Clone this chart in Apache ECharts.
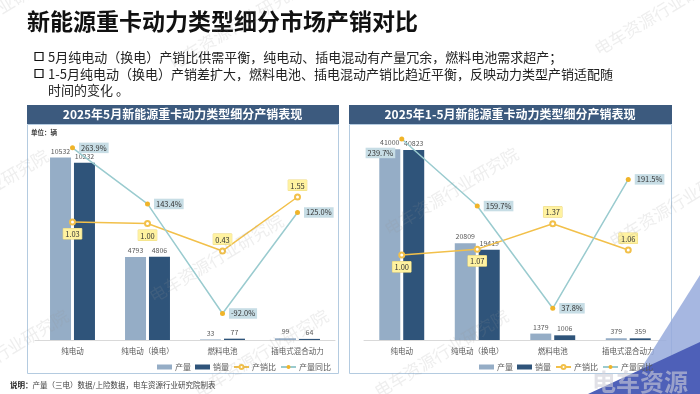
<!DOCTYPE html>
<html>
<head>
<meta charset="utf-8">
<script src="https://cdn.jsdelivr.net/npm/echarts@6/dist/echarts.min.js"></script>
<style>
  html, body { margin: 0; padding: 0; background: #ffffff; }
  #chart { width: 700px; height: 394px; }
</style>
</head>
<body>
<div id="chart"></div>
<script>
// ---- data ----
const categories = ['纯电动', '纯电动（换电）', '燃料电池', '插电式混合动力'];
const seriesNames = ['产量', '销量', '产销比', '产量同比'];
const mayProduction = [10532, 4793, 33, 99];
const maySales = [10232, 4806, 77, 64];
const mayRatio = [1.03, 1.00, 0.43, 1.55];
const mayYoY = [263.9, 143.4, -92.0, 125.0];
const ytdProduction = [41000, 20809, 1379, 379];
const ytdSales = [40823, 19419, 1006, 359];
const ytdRatio = [1.00, 1.07, 1.37, 1.06];
const ytdYoY = [239.7, 159.7, 37.8, 191.5];

const pageTitle = '新能源重卡动力类型细分市场产销对比';
const bullets = [
  '5月纯电动（换电）产销比供需平衡，纯电动、插电混动有产量冗余，燃料电池需求超产；',
  '1-5月纯电动（换电）产销差扩大，燃料电池、插电混动产销比趋近平衡，反映动力类型产销适配随',
  '时间的变化 。'
];
const panelTitles = ['2025年5月新能源重卡动力类型细分产销表现', '2025年1-5月新能源重卡动力类型细分产销表现'];
const unitText = '单位：辆';
const noteLabel = '说明：';
const noteText = '产量（三电）数据/上险数据，电车资源行业研究院制表';
const watermark = '电车资源行业研究院';
const logoText = '电车资源';

// ---- styles ----
const FONT = '"Noto Sans CJK SC", "Noto Sans", sans-serif';
const C_PROD = '#95adc6';
const C_SALE = '#2f547a';
const C_RATIO = '#f2c04a';
const C_YOY_LINE = '#9acbcf';
const C_YOY_DOT = '#f0b429';
const C_HEADER = '#3c5a7e';

const ratioPosLeft = ['bottom', 'bottom', 'top', 'top'];
const ratioPosRight = ['bottom', 'bottom', 'top', 'top'];
const yoyPosLeft = ['right', 'right', 'right', 'right'];
const yoyPosRight = ['left', 'right', 'right', 'right'];
const yoyOffRight = [[0, 14], [0, 0], [0, 0], [0, 0]];

const ratioLabel = {
  show: true, fontSize: 7.5, color: '#333', backgroundColor: '#fff2a0',
  borderColor: '#ecd77c', borderWidth: 0.5, padding: [2, 2, 1, 2], distance: 3,
  formatter: p => Number(p.value).toFixed(2)
};
const yoyLabel = {
  show: true, fontSize: 7.5, color: '#333', backgroundColor: '#c7dde5',
  padding: [2, 2, 1, 2], distance: 4,
  formatter: p => Number(p.value).toFixed(1) + '%'
};
const barLabel = { show: true, position: 'top', fontSize: 7, color: '#595959', distance: 3 };

function barSeries(name, data, color, xi, yi) {
  return {
    name, type: 'bar', xAxisIndex: xi, yAxisIndex: yi, data,
    barWidth: 21, barGap: '14%', itemStyle: { color }, label: barLabel, z: 2
  };
}
function ratioSeries(data, pos, xi, yi) {
  return {
    name: seriesNames[2], type: 'line', xAxisIndex: xi, yAxisIndex: yi,
    data: data.map((v, i) => ({ value: v, label: { position: pos[i] } })),
    symbol: 'emptyCircle', symbolSize: 5,
    lineStyle: { color: C_RATIO, width: 1.5 },
    itemStyle: { color: C_RATIO, borderColor: C_RATIO },
    label: ratioLabel, z: 4
  };
}
function yoySeries(data, pos, off, xi, yi) {
  return {
    name: seriesNames[3], type: 'line', xAxisIndex: xi, yAxisIndex: yi,
    data: data.map((v, i) => ({ value: v, label: { position: pos[i], offset: off ? off[i] : [0, 0] } })),
    symbol: 'circle', symbolSize: 5,
    lineStyle: { color: C_YOY_LINE, width: 1.5 },
    itemStyle: { color: C_YOY_DOT },
    label: yoyLabel, z: 5
  };
}
function xAxis(gi) {
  return {
    type: 'category', gridIndex: gi, data: categories, boundaryGap: true,
    axisLine: { lineStyle: { color: '#d9d9d9' } }, axisTick: { show: false },
    axisLabel: { fontSize: 7.5, color: '#595959', margin: 7, interval: 0 }
  };
}
function yAxis(gi, min, max) {
  return { type: 'value', gridIndex: gi, min, max, show: false, splitLine: { show: false } };
}
function legend(left) {
  return {
    left, top: 358, z: 20, itemWidth: 15, itemHeight: 5, itemGap: 4,
    textStyle: { fontSize: 8, color: '#595959', padding: [0, 0, 0, -2] },
    data: [{ name: seriesNames[0], icon: 'rect' }, { name: seriesNames[1], icon: 'rect' }, seriesNames[2], seriesNames[3]]
  };
}

// ---- graphics (page decorations) ----
const graphics = [];
// watermarks
const wmPos = [[-70, 60], [175, 72], [600, 58], [-80, 240], [155, 305], [390, 238], [615, 250], [-60, 400], [200, 400], [380, 400]];
wmPos.forEach(p => graphics.push({
  type: 'text', x: p[0], y: p[1], rotation: 0.54, z: 100, silent: true,
  style: { text: watermark, fontSize: 17, fontFamily: FONT, fill: 'rgba(150,150,150,0.16)', verticalAlign: 'bottom' }
}));
// title
graphics.push({ type: 'text', x: 27, y: 10, style: { text: pageTitle, fontSize: 23, fontWeight: 'bold', fontFamily: FONT, fill: '#111', verticalAlign: 'top' } });
// bullets
[[57, 0], [74, 1], [90, 2]].forEach(([y, i]) => {
  if (i < 2) graphics.push({ type: 'rect', shape: { x: 35, y: y - 4.5, width: 8, height: 8 }, style: { fill: 'none', stroke: '#111', lineWidth: 1.2 } });
  graphics.push({ type: 'text', x: 48, y, style: { text: bullets[i], fontSize: 13, fontFamily: FONT, fill: '#222', verticalAlign: 'middle' } });
});
// panels
[[27, 311], [349, 322]].forEach(([x, w], i) => {
  graphics.push({ type: 'rect', z: -1, shape: { x: x + 0.5, y: 124.5, width: w, height: 249 }, style: { fill: '#fff', stroke: '#b4cbe0', lineWidth: 1 } });
  graphics.push({ type: 'rect', shape: { x, y: 105, width: w + 1, height: 19 }, style: { fill: C_HEADER } });
  graphics.push({ type: 'text', x: x + w / 2, y: 114.5, style: { text: panelTitles[i], fontSize: 12, fontWeight: 'bold', fontFamily: FONT, fill: '#fff', align: 'center', verticalAlign: 'middle' } });
});
graphics.push({ type: 'text', x: 31, y: 133, style: { text: unitText, fontSize: 6.5, fontWeight: 'bold', fontFamily: FONT, fill: '#404040', verticalAlign: 'middle' } });
// note
graphics.push({
  type: 'text', x: 10, y: 385, style: {
    text: '{b|' + noteLabel + '}{n|' + noteText + '}', verticalAlign: 'middle',
    rich: { b: { fontSize: 7.5, fontWeight: 'bold', fontFamily: FONT, fill: '#222' }, n: { fontSize: 7.5, fontFamily: FONT, fill: '#404040' } }
  }
});
// logo corner
graphics.push({ type: 'polygon', z: 1, shape: { points: [[700, 275], [700, 394], [625, 394]] }, style: { fill: 'rgba(150,170,220,0.85)' } });
graphics.push({ type: 'polygon', z: 1, shape: { points: [[588, 394], [700, 342], [700, 394]] }, style: { fill: '#4e60b8' } });
graphics.push({ type: 'text', z: 2, x: 592, y: 370, style: { text: logoText, fontSize: 24, fontWeight: 'bold', fontFamily: FONT, fill: 'rgba(205,205,215,0.6)', verticalAlign: 'top' } });

const option = {
  backgroundColor: '#ffffff',
  animation: false,
  textStyle: { fontFamily: FONT },
  grid: [
    { left: 35, width: 300, top: 132, height: 208 },
    { left: 364, width: 302, top: 132, height: 208 }
  ],
  xAxis: [xAxis(0), xAxis(1)],
  yAxis: [
    yAxis(0, 0, 12000), yAxis(0, -1.42, 2.9), yAxis(0, -149, 298),
    yAxis(1, 0, 44700), yAxis(1, 0, 2.45), yAxis(1, 0, 248)
  ],
  legend: [legend(152), legend(474)],
  series: [
    barSeries(seriesNames[0], mayProduction, C_PROD, 0, 0),
    barSeries(seriesNames[1], maySales, C_SALE, 0, 0),
    ratioSeries(mayRatio, ratioPosLeft, 0, 1),
    yoySeries(mayYoY, yoyPosLeft, null, 0, 2),
    barSeries(seriesNames[0], ytdProduction, C_PROD, 1, 3),
    barSeries(seriesNames[1], ytdSales, C_SALE, 1, 3),
    ratioSeries(ytdRatio, ratioPosRight, 1, 4),
    yoySeries(ytdYoY, yoyPosRight, yoyOffRight, 1, 5)
  ],
  graphic: graphics
};

const chart = echarts.init(document.getElementById('chart'), null, { renderer: 'canvas' });
chart.setOption(option);
</script>
</body>
</html>
